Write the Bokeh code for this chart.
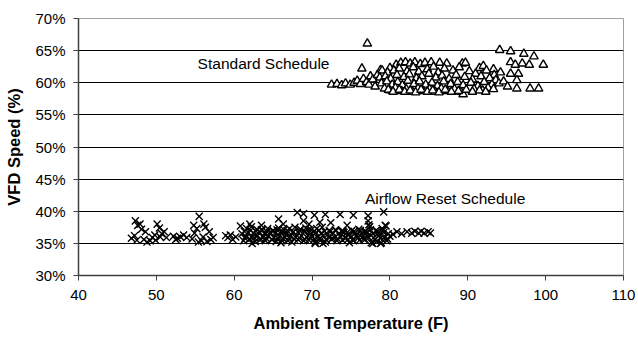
from bokeh.plotting import figure
from bokeh.models import FixedTicker, PrintfTickFormatter, Label
from bokeh.embed import file_html
from bokeh.resources import INLINE

# ---- Data ----
x_ticks = [40, 50, 60, 70, 80, 90, 100, 110]
y_ticks = [30, 35, 40, 45, 50, 55, 60, 65, 70]

# Standard Schedule (triangles): ambient temp (F), VFD speed (%)
std_temp = [
    72.5, 73.2, 73.8, 74.3, 74.9, 75.4, 75.8, 76.2, 76.6, 77.0, 77.3, 77.5, 76.4, 77.8, 78.1, 77.1, 78.8,
    80.0, 80.8, 81.4, 82.0, 82.6, 83.2, 83.9, 84.5, 85.3, 86.4, 87.3, 89.3, 91.5, 92.0, 93.3,
    78.4, 79.0, 79.7, 80.5, 81.2, 82.2, 83.0, 83.7, 84.8, 85.6, 86.2, 87.0, 88.1, 88.9, 90.2, 91.0, 92.4, 93.4, 94.2,
    78.7, 79.4, 80.1, 80.9, 81.8, 82.5, 83.4, 84.1, 85.0, 85.9, 86.7, 87.6, 88.5, 89.6, 90.6, 91.7, 92.8, 93.6,
    78.9, 79.6, 80.3, 81.0, 81.6, 82.3, 83.1, 83.8, 84.6, 85.4, 86.1, 86.9, 87.8, 88.7, 89.4, 90.4, 91.3, 92.1, 93.1, 94.0,
    79.3, 80.0, 80.7, 81.5, 82.1, 82.9, 83.6, 84.3, 85.1, 85.8, 86.6, 87.4, 88.3, 89.1, 89.4, 90.8, 91.9, 92.6,
    79.8, 80.4, 81.2, 81.9, 82.6, 83.3, 84.0, 84.8, 85.5, 86.3, 87.1, 87.9, 88.8, 89.8, 90.6, 91.5, 92.3, 93.3,
    94.1, 95.5, 97.2, 98.5, 95.5, 96.1, 97.0, 97.9, 99.7, 95.5, 96.5, 96.3, 98.0, 99.1, 96.3, 94.6, 95.1, 89.7,
]
std_speed = [
    59.7, 59.8, 59.6, 59.9, 59.7, 60.0, 60.3, 59.8, 60.6, 60.1, 59.7, 61.0, 62.2, 60.5, 59.4, 66.1, 62.0,
    62.3, 62.8, 63.1, 63.2, 63.0, 63.2, 62.9, 63.1, 63.2, 63.1, 63.0, 63.0, 62.3, 62.6, 62.1,
    61.2, 61.9, 61.6, 61.9, 62.2, 61.8, 62.4, 61.7, 62.1, 62.5, 61.6, 62.2, 61.9, 62.4, 61.8, 61.4, 61.9, 61.2, 61.6,
    60.8, 61.0, 60.6, 61.2, 60.9, 61.3, 60.7, 61.0, 61.4, 60.8, 61.1, 60.6, 61.2, 60.9, 60.5, 61.0, 60.7, 60.4,
    59.9, 60.2, 59.7, 60.1, 59.6, 60.3, 59.8, 60.2, 59.7, 60.0, 59.5, 60.2, 59.8, 60.1, 59.6, 60.0, 59.5, 60.1, 59.7, 59.9,
    59.1, 58.8, 59.2, 58.7, 59.0, 58.6, 59.1, 58.7, 59.0, 58.6, 59.1, 58.7, 59.0, 58.6, 58.2, 59.0, 58.8, 59.2,
    58.9, 58.6, 58.9, 58.6, 58.8, 58.5, 58.9, 58.6, 58.8, 58.5, 58.9, 58.6, 58.7, 58.9, 58.6, 58.8, 58.6, 59.0,
    65.1, 64.9, 64.5, 64.1, 63.2, 62.8, 63.0, 62.8, 62.8, 61.4, 61.4, 60.4, 59.1, 59.1, 59.1, 60.2, 59.4, 63.1,
]

# Airflow Reset Schedule (x markers)
afr_temp = [
    46.8, 47.2, 47.3, 47.6, 47.9, 48.1, 47.5, 48.4, 48.8, 49.2, 49.5, 49.8, 50.1, 50.4, 50.7, 51.0, 51.3, 49.9, 50.5, 48.6,
    52.2, 52.7, 53.1, 53.5, 53.9, 52.5,
    54.6, 54.9, 55.2, 55.5, 55.8, 56.0, 56.3, 56.5, 56.8, 57.0, 57.3, 55.4, 56.1, 54.8,
    58.9, 59.2, 59.5, 59.8, 60.2,
    61.2, 61.9, 62.7, 63.3, 64.0, 64.8, 65.4, 66.1, 66.9, 67.4, 68.2, 68.9, 69.6, 70.4, 71.1, 71.7, 72.5, 73.2, 73.9, 74.6, 75.3, 76.1, 76.8, 77.6, 78.3, 78.9, 79.6,
    61.5, 62.3, 63.0, 63.7, 64.4, 65.1, 65.8, 66.5, 67.2, 67.9, 68.6, 69.3, 70.0, 70.7, 71.4, 72.1, 72.9, 73.6, 74.3, 75.0, 75.7, 76.4, 77.1, 77.9, 78.6, 79.3, 80.0,
    61.0, 61.8, 62.5, 63.2, 63.9, 64.6, 65.3, 66.0, 66.7, 67.5, 68.3, 69.0, 69.8, 70.5, 71.2, 72.0, 72.7, 73.4, 74.1, 74.8, 75.5, 76.3, 77.0, 77.8, 78.5, 79.2, 79.8,
    61.6, 62.2, 62.9, 63.6, 64.3, 65.0, 65.7, 66.4, 67.1, 67.8, 68.5, 69.2, 69.9, 70.6, 71.3, 72.2, 73.0, 74.0, 75.1, 76.0, 76.9, 77.4, 78.2, 79.0, 79.5,
    61.4, 62.0, 62.6, 63.4, 64.1, 64.9, 65.6, 66.3, 67.0, 67.7, 68.4, 69.1, 69.7, 70.3, 71.0, 71.8, 72.6, 73.3, 74.2, 75.2, 75.9, 76.6, 77.3, 78.1, 78.8, 79.7,
    61.3, 62.1, 62.8, 63.5, 64.2, 65.0, 65.5, 66.2, 66.8, 67.6, 68.4, 69.1, 69.6, 70.2, 70.9, 71.6, 72.3, 73.1, 73.8, 74.5, 75.4, 76.2, 76.7, 77.5, 78.4, 79.1,
    65.7, 66.3, 68.1, 68.9, 68.9, 69.6, 70.3, 71.0, 71.7, 72.4, 73.6, 75.3, 77.2, 77.2, 77.3, 79.2, 79.4, 74.5, 63.5, 62.0, 60.8,
    70.4, 71.4, 77.8, 78.8, 66.0, 74.8, 62.3,
    80.4, 80.9, 81.5, 82.2, 82.8, 83.2, 83.7, 84.0, 84.4, 84.9, 85.2,
]
afr_speed = [
    35.8, 36.2, 38.5, 37.8, 38.0, 37.2, 35.5, 35.6, 35.2, 35.4, 35.9, 36.3, 38.0, 37.4, 36.5, 36.8, 35.9, 35.5, 36.0, 36.8,
    36.1, 35.8, 36.0, 36.3, 35.9, 35.6,
    35.7, 36.6, 37.3, 39.2, 35.4, 36.0, 37.5, 35.3, 36.8, 35.6, 35.9, 35.2, 38.0, 37.8,
    36.2, 35.9, 36.3, 35.6, 36.0,
    35.4, 35.6, 35.3, 35.5, 35.4, 35.6, 35.3, 35.5, 35.4, 35.2, 35.6, 35.4, 35.5, 35.2, 35.5, 35.2, 35.6, 35.4, 35.5, 35.6, 35.4, 35.5, 35.6, 35.1, 35.3, 35.1, 35.4,
    36.1, 35.9, 36.2, 36.0, 36.1, 35.9, 36.2, 36.0, 36.1, 35.9, 36.2, 36.0, 36.1, 35.9, 36.2, 36.0, 35.9, 36.1, 35.8, 36.0, 36.2, 35.9, 36.1, 35.9, 36.2, 36.0, 36.1,
    36.5, 36.7, 36.6, 36.8, 36.5, 36.7, 36.6, 36.8, 36.5, 36.7, 36.6, 36.8, 36.5, 36.7, 36.6, 36.4, 36.6, 36.5, 36.7, 36.4, 36.6, 36.5, 36.7, 36.5, 36.6, 36.7, 36.5,
    37.3, 37.6, 37.2, 37.1, 37.3, 37.0, 37.4, 37.1, 37.3, 37.5, 37.2, 37.4, 37.1, 37.3, 37.5, 37.0, 37.1, 36.9, 37.0, 37.2, 36.9, 37.6, 37.0, 37.3, 37.7,
    35.8, 35.7, 35.9, 35.7, 35.8, 35.6, 35.8, 35.7, 35.9, 35.7, 35.8, 35.6, 35.9, 35.7, 35.8, 35.6, 35.8, 35.7, 35.9, 35.6, 35.8, 35.7, 35.9, 35.6, 35.8, 35.7,
    36.9, 37.0, 36.9, 37.1, 36.8, 36.9, 37.1, 36.9, 37.0, 36.8, 37.0, 36.9, 37.1, 36.8, 37.0, 36.9, 36.8, 37.0, 36.9, 36.7, 36.9, 37.0, 36.8, 37.1, 36.9, 37.0,
    38.8, 38.0, 39.8, 38.5, 39.6, 38.0, 39.4, 38.3, 39.5, 38.2, 39.5, 39.4, 39.3, 38.5, 37.9, 39.9, 37.8, 37.8, 37.8, 38.0, 37.7,
    35.0, 35.0, 35.0, 35.0, 35.1, 35.1, 35.0,
    36.4, 36.8, 36.5, 36.8, 36.6, 36.9, 36.6, 36.9, 36.6, 36.8, 36.6,
]

FONT = "Liberation Sans"

p = figure(
    width=638, height=341,
    x_range=(40, 110), y_range=(30, 70),
    output_backend="svg", toolbar_location=None,
    min_border_left=78, min_border_right=15, min_border_top=18, min_border_bottom=66,
    background_fill_color="white", border_fill_color="white",
)

p.outline_line_color = "#a0a0a0"
p.outline_line_width = 1

p.xgrid.visible = False
p.ygrid.ticker = FixedTicker(ticks=y_ticks[1:-1])
p.ygrid.grid_line_color = "black"
p.ygrid.grid_line_width = 1

for ax in (p.xaxis[0], p.yaxis[0]):
    ax.axis_line_color = "#404040"
    ax.axis_line_width = 1.5
    ax.major_tick_line_color = "#404040"
    ax.major_tick_in = 0
    ax.major_tick_out = 5
    ax.minor_tick_line_color = None
    ax.major_label_text_font = FONT
    ax.major_label_text_font_size = "15px"
    ax.major_label_text_color = "black"
    ax.axis_label_text_font = FONT
    ax.axis_label_text_font_size = "16.5px"
    ax.axis_label_text_font_style = "bold"
    ax.axis_label_text_color = "black"

p.xaxis.ticker = FixedTicker(ticks=x_ticks)
p.yaxis.ticker = FixedTicker(ticks=y_ticks)
p.yaxis.formatter = PrintfTickFormatter(format="%d%%")
p.xaxis.axis_label = "Ambient Temperature (F)"
p.yaxis.axis_label = "VFD Speed (%)"
p.xaxis.major_label_standoff = 9
p.yaxis.major_label_standoff = 8
p.xaxis.axis_label_standoff = 11
p.yaxis.axis_label_standoff = 9

p.scatter(afr_temp, afr_speed, marker="x", size=10, line_color="black", line_width=1.4)
p.scatter(std_temp, std_speed, marker="triangle", size=8.5,
          fill_color="white", line_color="black", line_width=1.4)

p.add_layout(Label(x=55.3, y=63.05, text="Standard Schedule", text_baseline="middle",
                   text_align="left", text_font=FONT, text_font_size="15.5px", text_color="black"))
p.add_layout(Label(x=76.8, y=41.95, text="Airflow Reset Schedule", text_baseline="middle",
                   text_align="left", text_font=FONT, text_font_size="15.5px", text_color="black"))

open("out.html", "w").write(file_html(p, INLINE))
